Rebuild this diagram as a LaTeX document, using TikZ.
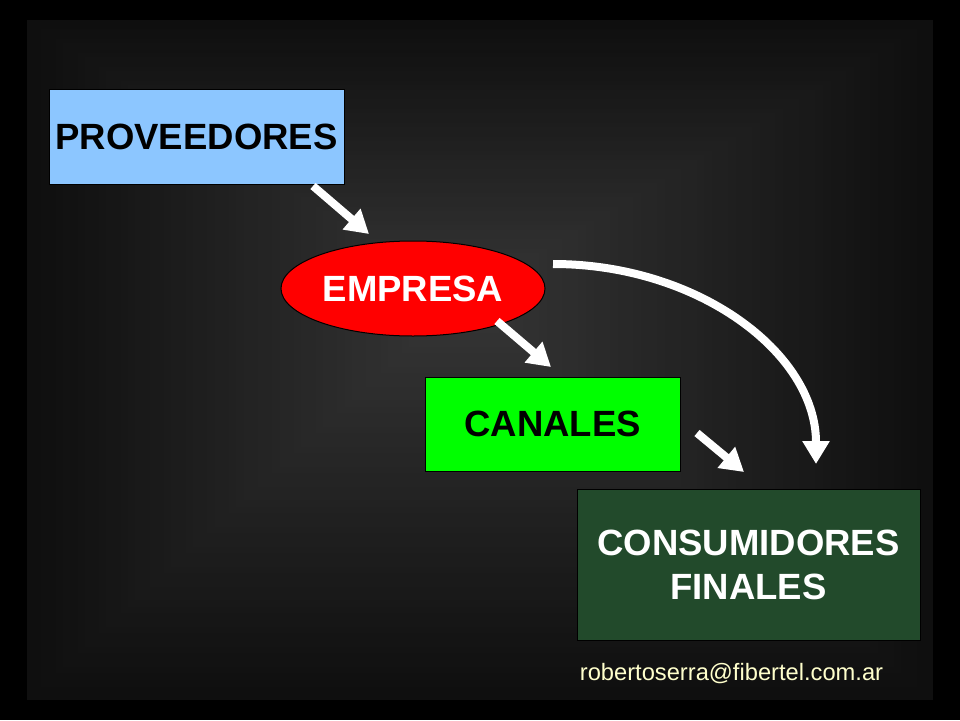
\documentclass[tikz,border=0pt]{standalone}
\usepackage{fontspec}
\setmainfont{Liberation Sans}
\usetikzlibrary{shapes.geometric,arrows.meta}
\definecolor{provblue}{RGB}{140,198,255}
\definecolor{consgreen}{RGB}{34,74,43}
\definecolor{mailcol}{RGB}{255,255,204}
\tikzset{
  boxnode/.style={draw=black, line width=1pt, inner sep=0pt, font=\fontsize{36.5}{44}\selectfont\bfseries, align=center},
  flowarrow/.style={draw=white, line width=8pt, -{Triangle[width=26pt,length=23pt]}},
}
\begin{document}
\begin{tikzpicture}[x=1pt,y=-1pt]
\useasboundingbox (0,0) rectangle (960,720);
\fill[black] (0,0) rectangle (960,720);
% stepped rectangular gradient background
\foreach \i in {0,...,59}{
  \pgfmathsetmacro\t{\i/60}
  \pgfmathtruncatemacro\v{15+40*\t}
  \definecolor{bgc}{RGB}{\v,\v,\v}
  \fill[bgc] ({27+\t*(460-27)},{20+\t*(300-20)}) rectangle ({933-\t*(933-460)},{700-\t*(700-300)});
}
% nodes
\node[boxnode, fill=provblue, minimum width=295pt, minimum height=95pt, text=black] (prov) at (196.5,136.5) {PROVEEDORES};
\node[boxnode, ellipse, fill=red, minimum width=264pt, minimum height=95pt, text=white] (emp) at (413,288.5) {EMPRESA};
\node[boxnode, fill=green, minimum width=255pt, minimum height=94pt, text=black] (can) at (552.5,424) {CANALES};
\node[boxnode, fill=consgreen, minimum width=343pt, minimum height=151pt, text=white] (cons) at (748.5,564.5) {CONSUMIDORES\\FINALES};
\node[anchor=base, text=mailcol, inner sep=0pt, font=\fontsize{23.7}{28}\selectfont] (mail) at (731.5,680) {robertoserra@fibertel.com.ar};
% arrow end points
\coordinate (a1s) at (313,186);
\coordinate (a1e) at (369,234);
\coordinate (a2s) at (497,321);
\coordinate (a2e) at (551,367);
\coordinate (a3s) at (697,433);
\coordinate (a3e) at (744,472);
\coordinate (c1s) at (553,264);
\coordinate (c1e) at (816,464);
% arrows
\draw[flowarrow] (a1s) -- (a1e);
\draw[flowarrow] (a2s) -- (a2e);
\draw[flowarrow] (a3s) -- (a3e);
\draw[flowarrow] (c1s) .. controls (698,264) and (816,353) .. (c1e);
\end{tikzpicture}
\end{document}
